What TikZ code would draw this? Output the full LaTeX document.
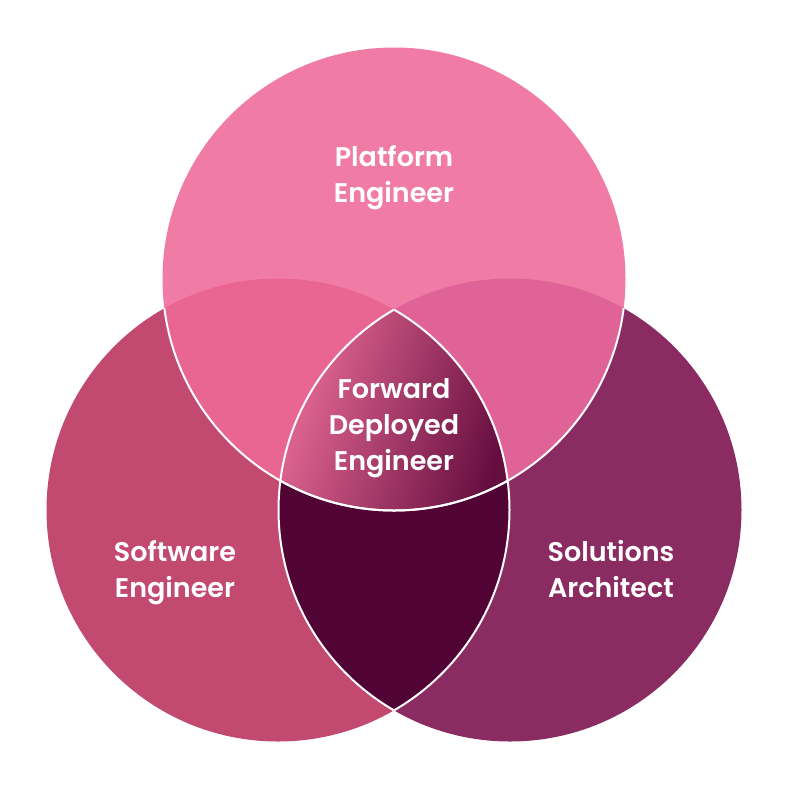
\documentclass[tikz,border=0pt]{standalone}
\usepackage{fontspec}
\setmainfont{Poppins}[UprightFont=* SemiBold]
\definecolor{topc}{HTML}{F07CA5}
\definecolor{leftc}{HTML}{C2496F}
\definecolor{rightc}{HTML}{8A2C62}
\definecolor{tlc}{HTML}{EA6692}
\definecolor{trc}{HTML}{E06398}
\definecolor{lrc}{HTML}{520336}
\definecolor{cA}{HTML}{EB6D98}
\definecolor{cB}{HTML}{C23768}
\definecolor{cC}{HTML}{650D3F}
\begin{document}
\begin{tikzpicture}[x=1pt,y=-1pt,
  lbl/.style={text=white,align=center,font=\fontsize{27}{36}\selectfont},
  edge/.style={draw=white,line width=2pt}]
\useasboundingbox (0,0) rectangle (788,788);
\fill[white] (0,0) rectangle (788,788);
\def\R{231.5}
\coordinate (T) at (394,279);
\coordinate (L) at (278,510);
\coordinate (Rt) at (510,510);
% base circles
\fill[leftc] (L) circle (\R);
\fill[rightc] (Rt) circle (\R);
\fill[topc] (T) circle (\R);
% overlaps
\begin{scope}\clip (T) circle (\R); \fill[tlc] (L) circle (\R); \end{scope}
\begin{scope}\clip (T) circle (\R); \fill[trc] (Rt) circle (\R); \end{scope}
\begin{scope}\clip (L) circle (\R); \fill[lrc] (Rt) circle (\R); \end{scope}
\begin{scope}
  \clip (T) circle (\R);
  \clip (L) circle (\R);
  \clip (Rt) circle (\R);
  \shade[left color=cA, middle color=cB, right color=cC, shading angle=72] (278,300) rectangle (512,512);
\end{scope}
% white internal edges
\begin{scope}\clip (Rt) circle (\R); \draw[edge] (L) circle (\R); \end{scope}
\begin{scope}\clip (L) circle (\R); \draw[edge] (Rt) circle (\R); \end{scope}
\begin{scope}\clip (L) circle (\R); \draw[edge] (T) circle (\R); \end{scope}
\begin{scope}\clip (Rt) circle (\R); \draw[edge] (T) circle (\R); \end{scope}
% labels
\node[lbl] (plat) at (394,177.5) {Platform\\Engineer};
\node[lbl] (fde) at (394,428.5) {Forward\\Deployed\\Engineer};
\node[lbl] (soft) at (175,573) {Software\\Engineer};
\node[lbl] (sol) at (611,569) {Solutions\\Architect};
\end{tikzpicture}
\end{document}
